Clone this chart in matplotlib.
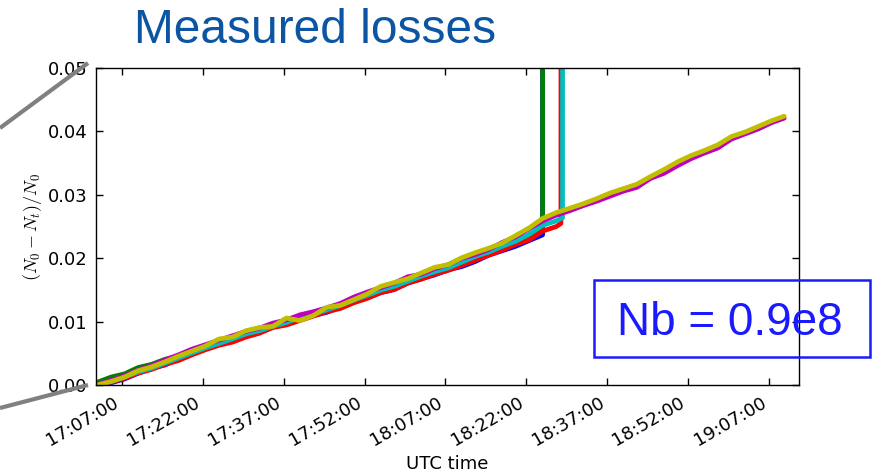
import datetime as dt

import matplotlib
matplotlib.use("Agg")
import matplotlib.pyplot as plt
import matplotlib.dates as mdates
from matplotlib.lines import Line2D
from matplotlib.patches import Rectangle

# Sample times in minutes after 17:00 UTC (common logging grid)
minutes = [2.2, 5.0, 7.5, 10.0, 12.5, 15.0, 17.5, 20.0, 22.5, 25.0,
           27.5, 30.0, 32.5, 35.0, 37.5, 40.0, 42.5, 45.0, 47.5, 50.0,
           52.5, 55.0, 57.5, 60.0, 62.5, 65.0, 67.5, 70.0, 72.5, 75.0,
           77.5, 80.0, 82.5, 85.0, 87.5, 90.0, 92.5, 95.0, 97.5, 100.0,
           102.5, 105.0, 107.5, 110.0, 112.5, 115.0, 117.5, 120.0, 122.5, 125.0,
           127.5, 129.8]

# Relative losses (N0 - Nt)/N0 per bunch, in units of 1e-3
blue_permille = [-0.3, 0.4, 1.0, 1.9, 2.7, 3.2, 4.2, 5.0, 5.7, 6.5,
                 7.2, 7.9, 8.4, 9.2, 9.7, 10.4, 11.0, 11.5, 12.3, 13.2,
                 13.8, 14.6, 15.1, 16.1, 16.8, 17.4, 18.2, 18.7, 19.5, 20.5,
                 21.2, 21.9, 22.8, 23.7]
green_permille = [0.4, 1.3, 1.8, 2.8, 3.3, 4.1, 4.6, 5.5, 6.0, 6.9,
                  7.4, 8.2, 8.8, 9.5, 9.9, 10.6, 11.3, 12.0, 12.6, 13.5,
                  14.3, 15.2, 15.7, 16.6, 17.3, 18.2, 18.6, 19.5, 20.2, 21.1,
                  21.6, 22.7, 23.4, 24.4]
red_permille = [0.0, 0.5, 1.1, 1.9, 2.5, 3.3, 3.9, 4.8, 5.6, 6.3,
                6.8, 7.6, 8.2, 9.1, 9.5, 10.2, 10.9, 11.6, 12.1, 13.0,
                13.7, 14.6, 15.1, 16.1, 16.7, 17.5, 18.1, 18.9, 19.7, 20.5,
                21.3, 22.2, 22.9, 24.3, 25.0]
cyan_permille = [0.0, 0.6, 1.3, 2.1, 2.7, 3.5, 4.3, 5.1, 5.9, 6.6,
                 7.3, 8.1, 8.6, 9.3, 9.9, 10.7, 11.2, 11.9, 12.6, 13.4,
                 14.2, 15.0, 15.6, 16.4, 17.2, 17.9, 18.5, 19.4, 20.3, 21.0,
                 21.9, 22.7, 23.8, 25.2, 25.9]
magenta_permille = [0.1, 0.8, 1.5, 2.4, 3.1, 4.0, 4.8, 5.7, 6.4, 7.1,
                    7.8, 8.5, 9.0, 9.8, 10.3, 11.1, 11.6, 12.2, 12.9, 13.9,
                    14.7, 15.4, 16.1, 17.1, 17.5, 18.4, 19.0, 20.0, 20.6, 21.4,
                    22.5, 23.4, 24.7, 25.9, 26.8, 27.5, 28.3, 29.0, 29.8, 30.6,
                    31.2, 32.6, 33.4, 34.6, 35.7, 36.6, 37.4, 38.8, 39.6, 40.4,
                    41.4, 42.1]
yellow_permille = [0.0, 0.6, 1.3, 2.3, 2.9, 3.7, 4.6, 5.4, 6.2, 7.3,
                   7.6, 8.6, 9.1, 9.3, 10.6, 10.2, 11.0, 12.3, 12.6, 13.5,
                   14.4, 15.6, 16.2, 16.8, 17.7, 18.6, 19.0, 20.1, 20.9, 21.6,
                   22.4, 23.6, 24.8, 26.3, 27.2, 27.9, 28.6, 29.4, 30.3, 31.0,
                   31.7, 32.9, 34.0, 35.2, 36.2, 37.0, 37.9, 39.2, 39.9, 40.8,
                   41.7, 42.4]

# Last readings of the dumped bunches (minutes, per-mille); a dumped bunch
# has lost everything, so its final value is 1000 per mille.
blue_tail_minutes = [85.2]
blue_tail_permille = [1000.0]
green_tail_minutes = [85.2]
green_tail_permille = [1000.0]
red_tail_minutes = [88.4, 88.6]
red_tail_permille = [25.5, 1000.0]
cyan_tail_minutes = [88.7, 88.9]
cyan_tail_permille = [26.4, 1000.0]

x_limits_minutes = (2.2, 132.6)
tick_minutes = [7, 22, 37, 52]
nb_label = "Nb = 0.9e8"

t0 = dt.datetime(2016, 1, 1, 17, 0, 0)


def to_times(mins):
    return [t0 + dt.timedelta(minutes=m) for m in mins]


series = [
    ("b", blue_permille, blue_tail_minutes, blue_tail_permille),
    ("g", green_permille, green_tail_minutes, green_tail_permille),
    ("r", red_permille, red_tail_minutes, red_tail_permille),
    ("c", cyan_permille, cyan_tail_minutes, cyan_tail_permille),
    ("m", magenta_permille, [], []),
    ("y", yellow_permille, [], []),
]

plt.rcParams["mathtext.fontset"] = "cm"
plt.rcParams["font.family"] = "DejaVu Sans"

fig = plt.figure(figsize=(8.75, 4.73), dpi=100, facecolor="white")
ax = fig.add_axes([0.1097, 0.1854, 0.8038, 0.6708])

color_map = {"b": "#0000ff", "g": "#008000", "r": "#ff0000",
             "c": "#00bfbf", "m": "#bf00bf", "y": "#bfbf00"}

for key, vals, tail_m, tail_v in series:
    mins = minutes[:len(vals)] + tail_m
    values = [v / 1000.0 for v in list(vals) + tail_v]
    ax.plot(to_times(mins), values, color=color_map[key], lw=3.4,
            solid_joinstyle="round", solid_capstyle="round")

ax.set_xlim(to_times(x_limits_minutes))
ax.set_ylim(0.0, 0.05)
ax.set_yticks([0.0, 0.01, 0.02, 0.03, 0.04, 0.05])
ax.yaxis.set_major_formatter(matplotlib.ticker.FormatStrFormatter("%.2f"))
ax.xaxis.set_major_locator(mdates.MinuteLocator(byminute=tick_minutes))
ax.xaxis.set_major_formatter(mdates.DateFormatter("%H:%M:%S"))

ax.tick_params(direction="in", length=5, width=1, top=True, right=True,
               labelsize=13, pad=6)
for lbl in ax.get_xticklabels():
    lbl.set_rotation(30)
    lbl.set_ha("right")
for sp in ax.spines.values():
    sp.set_linewidth(1.0)

ax.set_xlabel("UTC time", fontsize=13, labelpad=4)
ax.set_ylabel(r"$(N_0 - N_t)/N_0$", fontsize=13, labelpad=3)

# Slide title
fig.text(134 / 875, 1 - 43 / 473, "Measured losses", family="Liberation Sans",
         fontsize=34.5, color="#0b55a3", ha="left", va="baseline")

# Zoom guide lines on the slide
fig.add_artist(Line2D([0.0, 88 / 875], [1 - 128 / 473, 1 - 63 / 473],
                      transform=fig.transFigure, color="#808080", lw=3.0,
                      solid_capstyle="butt"))
fig.add_artist(Line2D([0.0, 88 / 875], [1 - 408 / 473, 1 - 385 / 473],
                      transform=fig.transFigure, color="#808080", lw=3.0,
                      solid_capstyle="butt"))

# Bunch intensity annotation box
fig.add_artist(Rectangle((594 / 875, 1 - 357 / 473), 276 / 875, 77 / 473,
                         transform=fig.transFigure, fill=False,
                         edgecolor="#1a1aff", lw=1.8))
fig.text(617 / 875, 1 - 335 / 473, nb_label, family="Liberation Sans",
         fontsize=33, color="#1a1aff", ha="left", va="baseline")

fig.savefig("out.png", dpi=100, facecolor="white")
